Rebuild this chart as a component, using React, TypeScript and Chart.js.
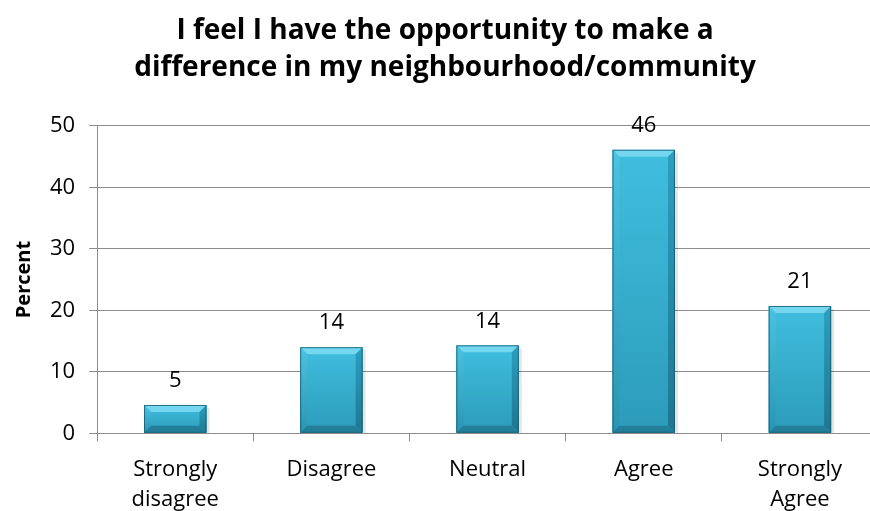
import React, { useEffect, useRef } from "react";
import { Chart, registerables } from "chart.js";

Chart.register(...registerables);

const categories: (string | string[])[] = [
  ["Strongly", "disagree"],
  "Disagree",
  "Neutral",
  "Agree",
  ["Strongly", "Agree"],
];
const percentValues = [4.6, 14.0, 14.3, 46.1, 20.7];
const valueLabels = ["5", "14", "14", "46", "21"];
const yTicks = [0, 10, 20, 30, 40, 50];
const titleLines = [
  "I feel I have the opportunity to make a",
  "difference in my neighbourhood/community",
];
const yAxisTitle = "Percent";

const FONT = "'Open Sans', sans-serif";

const bevelPlugin = {
  id: "bevelBars",
  afterDatasetsDraw(chart: any) {
    const ctx = chart.ctx;
    const meta = chart.getDatasetMeta(0);
    meta.data.forEach((bar: any) => {
      const { x, y, base, width } = bar.getProps(["x", "y", "base", "width"], true);
      const l = x - width / 2;
      const r = x + width / 2;
      const t = Math.min(y, base);
      const b = Math.max(y, base);
      const bv = Math.min(7, (b - t) / 2);
      ctx.save();
      ctx.fillStyle = "rgba(0,0,0,0.10)";
      ctx.fillRect(r, t + 3, 3, b - t - 3);
      const g = ctx.createLinearGradient(0, t, 0, b);
      g.addColorStop(0, "#40BEDE");
      g.addColorStop(1, "#2C9BBA");
      ctx.fillStyle = g;
      ctx.fillRect(l, t, width, b - t);
      ctx.beginPath();
      ctx.moveTo(l, t);
      ctx.lineTo(r, t);
      ctx.lineTo(r - bv, t + bv);
      ctx.lineTo(l + bv, t + bv);
      ctx.closePath();
      ctx.fillStyle = "#74D6EF";
      ctx.fill();
      ctx.beginPath();
      ctx.moveTo(l, t);
      ctx.lineTo(l + bv, t + bv);
      ctx.lineTo(l + bv, b - bv);
      ctx.lineTo(l, b);
      ctx.closePath();
      const gl = ctx.createLinearGradient(0, t, 0, b);
      gl.addColorStop(0, "#4CC3E1");
      gl.addColorStop(1, "#2A95B3");
      ctx.fillStyle = gl;
      ctx.fill();
      ctx.beginPath();
      ctx.moveTo(r, t);
      ctx.lineTo(r - bv, t + bv);
      ctx.lineTo(r - bv, b - bv);
      ctx.lineTo(r, b);
      ctx.closePath();
      const gr = ctx.createLinearGradient(0, t, 0, b);
      gr.addColorStop(0, "#2C9FC0");
      gr.addColorStop(1, "#1F7690");
      ctx.fillStyle = gr;
      ctx.fill();
      ctx.beginPath();
      ctx.moveTo(l, b);
      ctx.lineTo(l + bv, b - bv);
      ctx.lineTo(r - bv, b - bv);
      ctx.lineTo(r, b);
      ctx.closePath();
      ctx.fillStyle = "#237F99";
      ctx.fill();
      ctx.strokeStyle = "rgba(20,90,110,0.8)";
      ctx.lineWidth = 1;
      ctx.strokeRect(l + 0.5, t + 0.5, width - 1, b - t - 1);
      ctx.restore();
    });
  },
};

const valueLabelPlugin = {
  id: "valueLabels",
  afterDatasetsDraw(chart: any) {
    const ctx = chart.ctx;
    const meta = chart.getDatasetMeta(0);
    ctx.save();
    ctx.font = `22px ${FONT}`;
    ctx.fillStyle = "#000";
    ctx.textAlign = "center";
    ctx.textBaseline = "middle";
    meta.data.forEach((bar: any, i: number) => {
      const { x, y } = bar.getProps(["x", "y"], true);
      ctx.fillText(valueLabels[i], x, y - 24);
    });
    ctx.restore();
  },
};

export default function App() {
  const ref = useRef<HTMLCanvasElement | null>(null);
  useEffect(() => {
    document.documentElement.style.overflow = "hidden";
    const chart = new Chart(ref.current!, {
      type: "bar",
      data: {
        labels: categories,
        datasets: [
          {
            data: percentValues,
            backgroundColor: "rgba(0,0,0,0)",
            borderWidth: 0,
            barPercentage: 0.8,
            categoryPercentage: 0.5,
          },
        ],
      },
      options: {
        animation: false,
        responsive: true,
        maintainAspectRatio: false,
        layout: { padding: { left: 12, right: 0, top: 13, bottom: -17 } },
        plugins: {
          legend: { display: false },
          tooltip: { enabled: false },
          title: {
            display: true,
            text: titleLines,
            color: "#000",
            font: { family: FONT, size: 28, weight: "bold", lineHeight: 1.3 },
            padding: { top: 0, bottom: 40 },
          },
        },
        scales: {
          x: {
            grid: {
              display: true,
              drawOnChartArea: false,
              drawTicks: true,
              tickLength: 8,
              offset: true,
              color: "#8c8c8c",
            },
            border: { display: true, color: "#8c8c8c", width: 1 },
            ticks: {
              color: "#000",
              font: { family: FONT, size: 22, lineHeight: 1.38 },
              padding: 13,
              maxRotation: 0,
              autoSkip: false,
            },
          },
          y: {
            min: 0,
            max: 50,
            afterBuildTicks: (axis: any) => {
              axis.ticks = yTicks.map((v) => ({ value: v }));
            },
            grid: {
              color: "#8c8c8c",
              drawTicks: true,
              tickLength: 8,
            },
            border: { display: true, color: "#8c8c8c", width: 1 },
            ticks: {
              color: "#000",
              font: { family: FONT, size: 22 },
              padding: 14,
            },
            title: {
              display: true,
              text: yAxisTitle,
              color: "#000",
              font: { family: FONT, size: 20, weight: "bold" },
              padding: { top: 0, bottom: 0 },
            },
          },
        },
      },
      plugins: [bevelPlugin, valueLabelPlugin],
    });
    return () => chart.destroy();
  }, []);
  return (
    <div style={{ position: "fixed", left: 0, top: 0, width: 878, height: 511, background: "#fff" }}>
      <canvas ref={ref} />
    </div>
  );
}
